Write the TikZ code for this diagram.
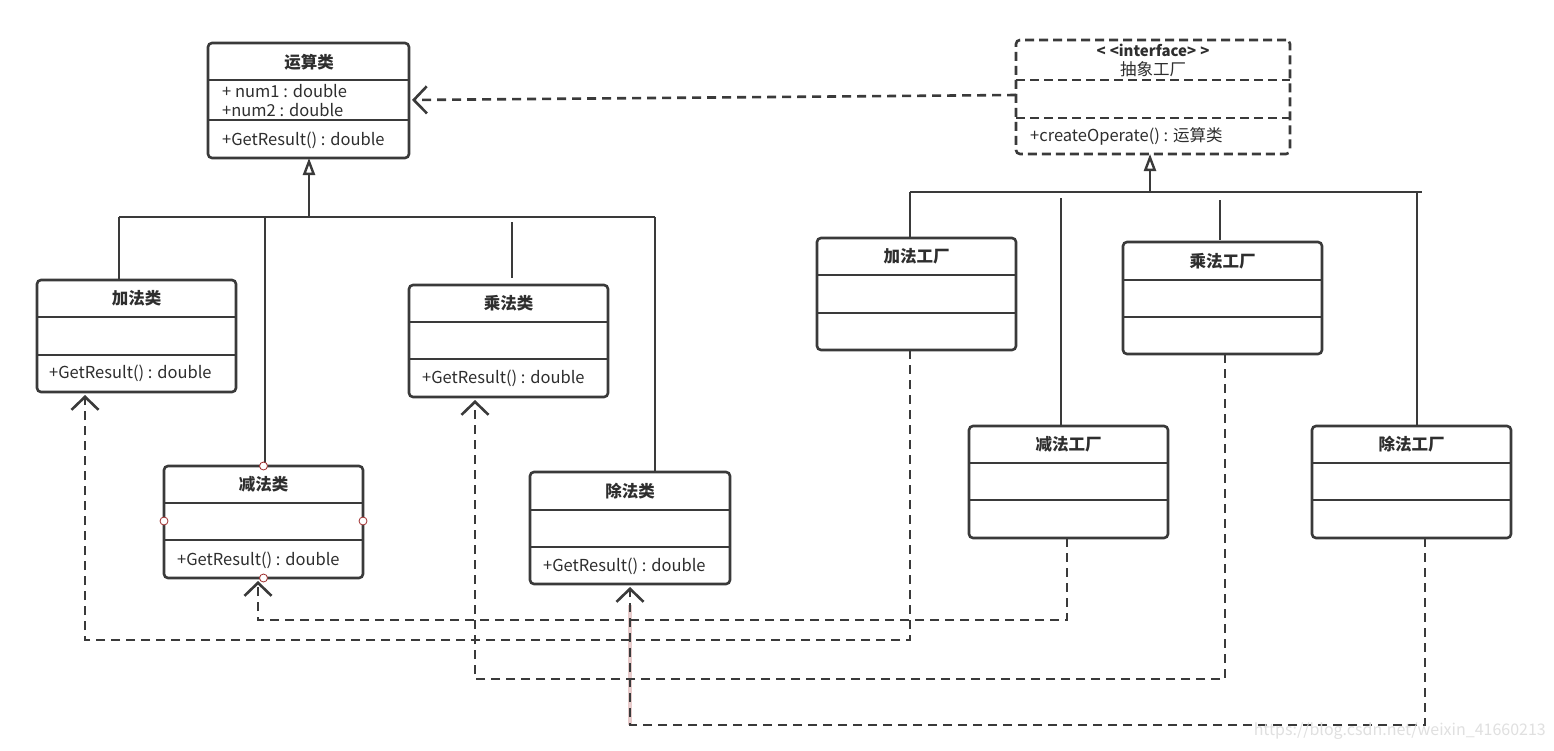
\documentclass[tikz,border=0pt]{standalone}
\usepackage{fontspec}
\setmainfont{Noto Sans CJK SC}
\usetikzlibrary{arrows.meta}
\definecolor{ln}{HTML}{3A3A3A}
\definecolor{txt}{HTML}{2E2E2E}
\definecolor{hnd}{HTML}{A03030}
\tikzset{
  x=1pt, y=-1pt,
  box/.style={draw=ln, line width=2.6pt, rounded corners=4pt, fill=white, inner sep=0pt, outer sep=0pt},
  dbox/.style={box, dashed, dash pattern=on 9pt off 5pt},
  sep/.style={draw=ln, line width=2.6pt},
  ttl/.style={font=\fontsize{16.5}{19}\selectfont\bfseries, text=txt, inner sep=0pt},
  mem/.style={font=\fontsize{16.5}{19}\selectfont, text=txt, inner sep=0pt, anchor=west},
  inh/.style={draw=ln, line width=2.6pt, -{Triangle[open, length=17pt, width=12pt, line width=2.4pt]}},
  lnk/.style={draw=ln, line width=2.6pt},
  dep/.style={draw=ln, line width=2.6pt, dash pattern=on 9pt off 6pt,
    -{Straight Barb[length=13pt, width=27pt, line width=2.6pt]}, shorten >=3pt},
  handle/.style={circle, draw=hnd, fill=white, line width=0.8pt, inner sep=0pt, minimum size=8pt},
}
% #1 style, #2 name, #3 x, #4 y, #5 w, #6 h, #7 sep1 offset, #8 sep2 offset, #9 title
\newcommand\umlcls[9][box]{%
  \node[#1, minimum width=#5pt, minimum height=#6pt, anchor=north west] (#2) at (#3,#4) {};
  \draw[sep, #1] ([yshift=-#7pt]#2.north west) -- ([yshift=-#7pt]#2.north east);
  \draw[sep, #1] ([yshift=-#8pt]#2.north west) -- ([yshift=-#8pt]#2.north east);
  \node[ttl] (#2-t) at ([yshift=-0.5*#7pt]#2.north) {#9};
}
\begin{document}
\begin{tikzpicture}
\useasboundingbox[fill=white] (0,0) rectangle (1554,750);

% ---------- product classes ----------
\umlcls{calc}{208}{43}{201}{115}{37}{77}{}
\node[ttl] at (309,62) {运算类};
\node[mem] (calc-a1) at (222,91) {+ num1 : double};
\node[mem] (calc-a2) at (222,110) {+num2 : double};
\node[mem] (calc-o) at (222,140) {+GetResult() : double};

\umlcls{add}{37}{280}{199}{112}{37}{75}{加法类}
\node[mem] (add-o) at (49,373) {+GetResult() : double};

\umlcls{sub}{164}{466}{199}{112}{37}{74}{减法类}
\node[mem] (sub-o) at (177,560) {+GetResult() : double};

\umlcls{mul}{409}{285}{199}{112}{37}{74}{乘法类}
\node[mem] (mul-o) at (422,378) {+GetResult() : double};

\umlcls{div}{530}{472}{200}{112}{38}{75}{除法类}
\node[mem] (div-o) at (543,566) {+GetResult() : double};

% ---------- factories ----------
\umlcls[dbox]{iface}{1016}{40}{274}{114}{40}{78}{}
\node[ttl, font=\fontsize{15}{18}\selectfont\bfseries] (iface-s) at (1153,50) {<\;<interface>\;>};
\node[font=\fontsize{16.5}{19}\selectfont, text=txt, inner sep=0pt] (iface-n) at (1153,69) {抽象工厂};
\node[mem] (iface-o) at (1030,136) {+createOperate() : 运算类};

\umlcls{addF}{817}{238}{199}{112}{37}{75}{加法工厂}
\umlcls{mulF}{1123}{242}{199}{112}{38}{75}{乘法工厂}
\umlcls{subF}{969}{426}{199}{112}{37}{74}{减法工厂}
\umlcls{divF}{1312}{426}{199}{112}{37}{74}{除法工厂}

% ---------- inheritance: products ----------
\coordinate (lbL) at (119,217);
\coordinate (lbR) at (655,217);
\coordinate (lbT) at (309,217);
\draw[lnk] (lbL) -- (lbR);
\draw[inh] (lbT) -- (lbT |- calc.south);
\draw[lnk] (lbL) -- (lbL |- add.north);
\coordinate (lbS) at (265,217);
\draw[lnk] (lbS) -- (lbS |- sub.north);
\coordinate (lbM1) at (512,222);
\coordinate (lbM2) at (512,278);
\draw[lnk] (lbM1) -- (lbM2);
\draw[lnk] (lbR) -- (lbR |- div.north);

% ---------- inheritance: factories ----------
\coordinate (rbL) at (910,192);
\coordinate (rbR) at (1422,192);
\coordinate (rbT) at (1150,192);
\draw[lnk] (rbL) -- (rbR);
\draw[inh] (rbT) -- (rbT |- iface.south);
\draw[lnk] (rbL) -- (rbL |- addF.north);
\coordinate (rb2) at (1061,198);
\draw[lnk] (rb2) -- ([yshift=1pt]rb2 |- subF.north);
\coordinate (rb3) at (1220,200);
\draw[lnk] (rb3) -- (1220,240);
\coordinate (rb4) at (1417,192);
\draw[lnk] (rb4) -- ([yshift=1pt]rb4 |- divF.north);

% ---------- dependencies ----------
\draw[dep] (iface.west |- 0,95) -- (calc.east |- 0,100);

\draw[draw=hnd!25, line width=4.5pt] (630,605) -- (630,725);

\coordinate (dA) at (910,640);
\coordinate (dA2) at (85,640);
\draw[dep] (addF.south -| dA) -- (dA) -- (dA2) -- (dA2 |- add.south);
\coordinate (dS) at (1067,620);
\coordinate (dS2) at (258,620);
\draw[dep] (subF.south -| dS) -- (dS) -- (dS2) -- (dS2 |- sub.south);
\coordinate (dM) at (1225,679);
\coordinate (dM2) at (475,679);
\draw[dep] (mulF.south -| dM) -- (dM) -- (dM2) -- (dM2 |- mul.south);
\coordinate (dD) at (1425,725);
\coordinate (dD2) at (630,725);
\draw[dep] (divF.south -| dD) -- (dD) -- (dD2) -- (dD2 |- div.south);

% ---------- selection handles ----------
\node[handle] (h1) at (sub.north) {};
\node[handle] (h2) at (sub.south) {};
\node[handle] (h3) at (sub.west |- 0,521) {};
\node[handle] (h4) at (sub.east |- 0,521) {};

% ---------- watermark ----------
\node[font=\fontsize{16}{18}\selectfont, text=black!12, inner sep=0pt, anchor=east] (wm) at (1546,731) {https://blog.csdn.net/weixin\_41660213};
\end{tikzpicture}
\end{document}
